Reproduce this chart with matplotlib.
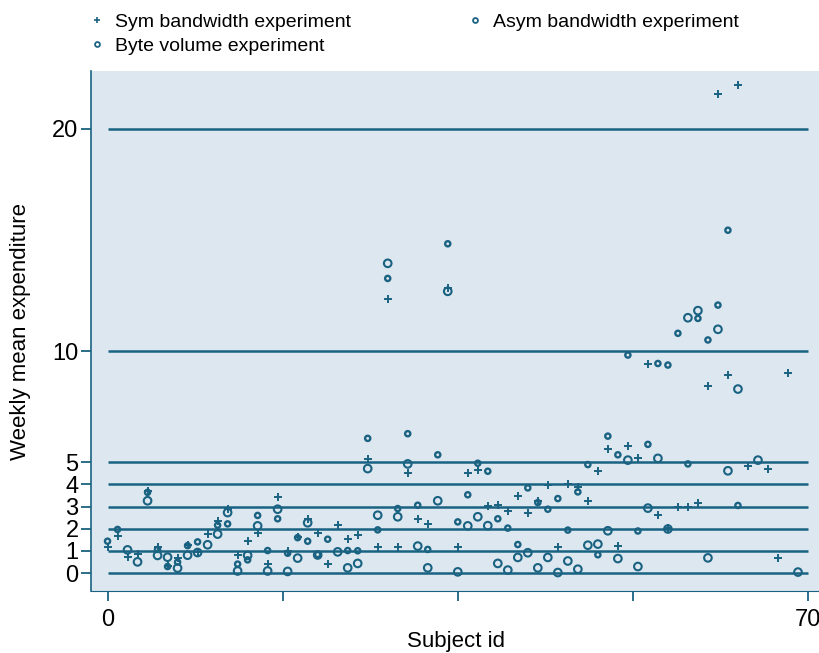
import numpy as np
import matplotlib.pyplot as plt
from matplotlib.lines import Line2D

# weekly mean expenditure per subject, one list per experiment (nan = no observation)
subject = list(range(70))
sym_bw = [1.19, 1.68, 0.71, 0.87, 3.68, 1.19, 0.34, 0.69, 1.28, 0.97,
          1.77, 2.37, 2.87, 0.80, 1.43, 1.79, 0.42, 3.42, 1.02, 1.62,
          2.46, 1.82, 0.41, 2.19, 1.52, 1.74, 5.15, 1.17, 12.33, 1.17,
          4.50, 2.42, 2.21, np.nan, 12.82, 1.17, 4.50, 4.64, 3.03, 3.06,
          2.79, 3.47, 2.70, 3.24, 3.96, 1.17, 4.01, 3.89, 3.24, 4.59,
          5.60, 1.22, 5.74, 5.18, 9.43, 2.64, 2.03, 2.97, 2.99, 3.15,
          8.42, 21.56, 8.92, 21.98, 4.83, np.nan, 4.70, 0.68, 9.01, np.nan]
asym_bw = [1.44, 1.97, np.nan, np.nan, 3.64, 1.07, 0.30, 0.50, 1.24, 1.41,
           np.nan, 2.16, 2.22, 0.41, 0.60, 2.60, 1.02, 2.45, 0.90, 1.60,
           1.44, 0.84, 1.53, np.nan, 1.02, 1.01, 6.07, 1.95, 13.27, 2.91,
           6.28, 3.06, 1.07, 5.33, 14.83, 2.31, 3.53, 4.95, 4.59, 2.45,
           2.03, 1.29, 3.84, 3.18, 2.88, 3.36, 1.94, 3.66, 4.89, 0.83,
           6.17, 5.33, 9.82, 1.90, 5.80, 9.44, 9.37, 10.80, 4.92, 11.47,
           10.50, 12.07, 15.44, 3.05, np.nan, np.nan, np.nan, np.nan, np.nan, np.nan]
byte_vol = [np.nan, np.nan, 1.05, 0.51, 3.26, 0.80, 0.72, 0.23, 0.81, 0.93,
            1.28, 1.76, 2.73, 0.10, 0.80, 2.13, 0.10, 2.88, 0.08, 0.68,
            2.27, 0.82, np.nan, 0.96, 0.24, 0.44, 4.71, 2.61, 13.95, 2.54,
            4.92, 1.22, 0.24, 3.26, 12.69, 0.06, 2.13, 2.54, 2.14, 0.44,
            0.14, 0.71, 0.92, 0.24, 0.71, 0.03, 0.55, 0.18, 1.26, 1.31,
            1.91, 0.66, 5.09, 0.30, 2.93, 5.17, 1.99, np.nan, 11.50, 11.82,
            0.69, 10.98, 4.61, 8.29, np.nan, 5.09, np.nan, np.nan, np.nan, 0.05]

yticks = [0, 1, 2, 3, 4, 5, 10, 20]
xticks = [0, 17.5, 35, 52.5, 70]
xticklabels = ['0', '', '', '', '70']

plt.rcParams['font.family'] = ['Liberation Sans', 'DejaVu Sans']
c = '#1a6282'

fig = plt.figure(figsize=(8.2, 6.53), dpi=100)
ax = fig.add_axes([0.111, 0.095, 0.889, 0.796])
ax.set_facecolor('#dde7ef')

ax.hlines(yticks, 0, 70, color=c, lw=1.8, zorder=1)
ax.scatter(subject, sym_bw, marker='+', s=30, color=c, lw=1.4, zorder=3)
ax.scatter(subject, asym_bw, marker='o', s=14, facecolors='none', edgecolors=c, lw=1.7, zorder=3)
ax.scatter(subject, byte_vol, marker='o', s=30, facecolors='none', edgecolors=c, lw=1.5, zorder=3)

ax.set_xlim(-1.65, 71.2)
ax.set_ylim(-0.8, 22.6)
ax.set_xticks(xticks)
ax.set_xticklabels(xticklabels)
ax.set_yticks(yticks)
ax.tick_params(color=c, length=7, width=1.3, labelsize=17)
ax.tick_params(axis='y', pad=2)
ax.tick_params(axis='x', pad=6)

for s in ['top', 'right']:
    ax.spines[s].set_visible(False)
ax.spines['left'].set_color(c)
ax.spines['left'].set_linewidth(1.2)
ax.spines['bottom'].set_color(c)
ax.spines['bottom'].set_linewidth(0.8)

ax.set_xlabel('Subject id', fontsize=16, labelpad=0)
ax.set_ylabel('Weekly mean expenditure', fontsize=16, labelpad=15)

handles = [
    Line2D([], [], ls='none', marker='+', ms=5, mew=1.2, color=c),
    Line2D([], [], ls='none', marker='o', ms=3.5, mew=1.3, mfc='none', mec=c),
    Line2D([], [], ls='none', marker='o', ms=3.5, mew=1.3, mfc='none', mec=c),
]
labels = ['Sym bandwidth experiment', 'Byte volume experiment', 'Asym bandwidth experiment']
fig.legend(handles, labels, ncol=2, frameon=False, loc='upper left',
           bbox_to_anchor=(0.088, 1.007), fontsize=14, handlelength=0.8,
           handletextpad=0.5, columnspacing=6.0, labelspacing=0.35)

fig.savefig('out.png', dpi=100)
